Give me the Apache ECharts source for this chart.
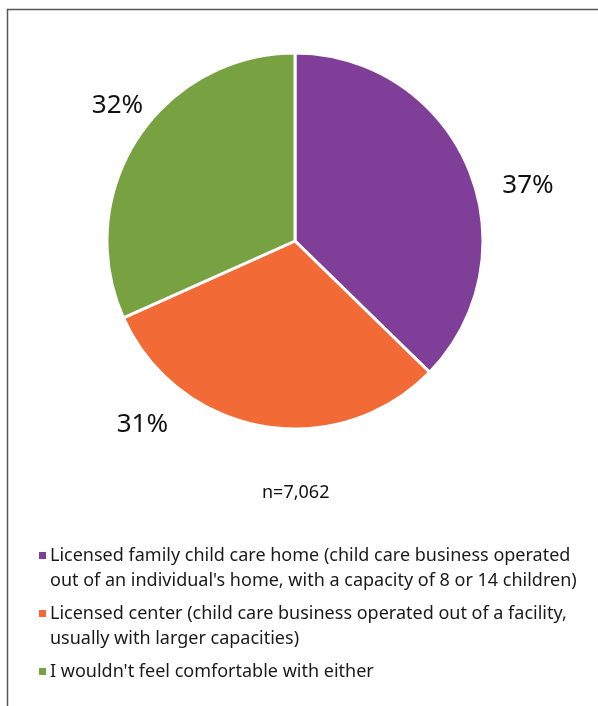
<!DOCTYPE html>
<html>
<head>
<meta charset="utf-8">
<script src="https://cdn.jsdelivr.net/npm/echarts@6/dist/echarts.min.js"></script>
<style>
html,body{margin:0;padding:0;background:#fff;}
#c{width:598px;height:706px;}
</style>
</head>
<body>
<div id="c"></div>
<script>
const categories = [
  "Licensed family child care home (child care business operated\nout of an individual's home, with a capacity of 8 or 14 children)",
  "Licensed center (child care business operated out of a facility,\nusually with larger capacities)",
  "I wouldn't feel comfortable with either"
];
const values = [37.3, 31.0, 31.7];
const colors = ['#7f3f98', '#f26a35', '#78a142'];
const note = 'n=7,062';

const font = '"Noto Sans", "Open Sans", sans-serif';
// label nudges (px) to match the reference placement
const labelShift = [[18, 22], [-87, -13], [21, -27]];
const tallIcon = 'path://M0,0H9V9H0Z M0,34L9,34';
const squareIcon = 'path://M0,0H9V9H0Z';
const chart = echarts.init(document.getElementById('c'), null, {renderer: 'canvas'});
chart.setOption({
  animation: false,
  color: colors,
  title: {
    text: note,
    left: 257,
    top: 479,
    textStyle: {fontFamily: font, fontSize: 18, fontWeight: 'normal', color: '#111'}
  },
  legend: {
    orient: 'vertical',
    left: 32,
    top: 538,
    itemWidth: 9,
    itemHeight: 34,
    itemGap: 8,
    textStyle: {fontFamily: font, fontSize: 18, color: '#1a1a1a', lineHeight: 25, padding: [0,0,0,-2]},
    data: categories.map((c, i) => ({name: c, icon: c.indexOf('\n') >= 0 ? tallIcon : squareIcon}))
  },
  graphic: [{
    type: 'rect',
    shape: {x: 7.5, y: 9.5, width: 700, height: 800},
    style: {fill: 'none', stroke: '#555', lineWidth: 1.5},
    silent: true
  }],
  series: [{
    type: 'pie',
    center: [295, 241],
    radius: [0, 188],
    startAngle: 90,
    clockwise: true,
    data: categories.map((c, i) => ({name: c, value: values[i]})),
    itemStyle: {borderColor: '#fff', borderWidth: 3},
    label: {
      show: true,
      position: 'outside',
      formatter: p => Math.round(p.value) + '%',
      fontFamily: font,
      fontSize: 26,
      color: '#111'
    },
    labelLine: {show: false, length: 12, length2: 0},
    labelLayout: p => ({dx: labelShift[p.dataIndex][0], dy: labelShift[p.dataIndex][1]})
  }]
});
</script>
</body>
</html>
